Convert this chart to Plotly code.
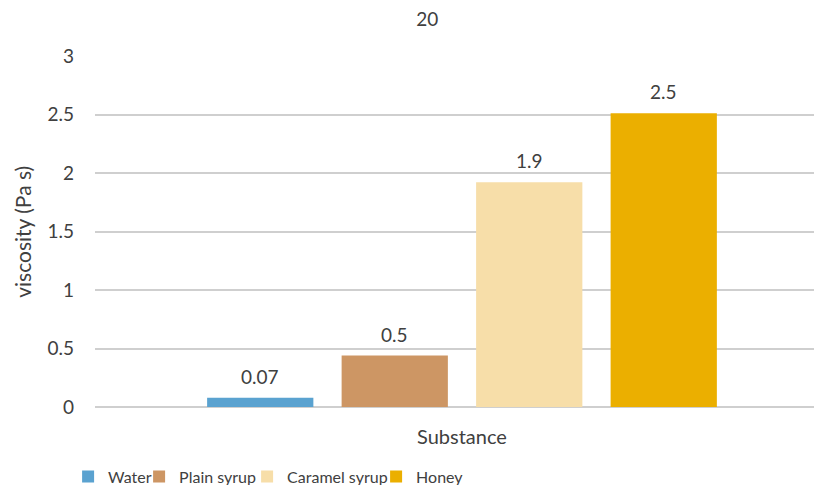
import plotly.graph_objects as go

category = ["Substance"]
series_names = ["Water", "Plain syrup", "Caramel syrup", "Honey"]
series_values = [0.08, 0.44, 1.92, 2.51]
series_labels = ["0.07", "0.5", "1.9", "2.5"]
series_colors = ["#5aa2d0", "#cd9664", "#f7dea9", "#ebaf00"]
legend_widths = [26, 63, 84, 50]
y_ticks = [0, 0.5, 1, 1.5, 2, 2.5, 3]
y_ticktext = ["0", "0.5", "1", "1.5", "2", "2.5", "3"]

FONT = "Lato, Open Sans, sans-serif"
TXT = "#404040"
BARGAP = 0.26
n = len(series_names)

fig = go.Figure()
for name, val, col, lw in zip(series_names, series_values, series_colors, legend_widths):
    fig.add_trace(go.Bar(
        x=category, y=[val], name=name, marker=dict(color=col, line=dict(width=0)),
        legendwidth=lw, hoverinfo="skip",
    ))

annotations = []
slot = (1 - BARGAP) / n
for i, (val, lab) in enumerate(zip(series_values, series_labels)):
    annotations.append(dict(
        text=lab, xref="x", yref="y", x=(i - (n - 1) / 2) * slot, y=val,
        xanchor="center", yanchor="bottom", yshift=8, showarrow=False,
        font=dict(family=FONT, size=19, color=TXT)))

annotations += [
    dict(text="viscosity (Pa s)", textangle=-90, xref="paper", yref="paper",
         x=-0.1, y=0.5, xanchor="center", yanchor="middle", showarrow=False,
         font=dict(family=FONT, size=21, color=TXT)),
    dict(text=category[0], xref="x", yref="paper", x=0, y=-0.084,
         xanchor="center", yanchor="middle", showarrow=False,
         font=dict(family=FONT, size=20, color=TXT)),
]

fig.update_layout(
    width=814, height=477,
    margin=dict(l=87, r=0, t=48, b=78, autoexpand=False),
    paper_bgcolor="white", plot_bgcolor="white",
    barmode="group", bargap=BARGAP, bargroupgap=0.21,
    font=dict(family=FONT, color=TXT),
    title=dict(text="20", x=0.515, xref="container", xanchor="center",
               y=0.977, yref="container", yanchor="middle",
               font=dict(family=FONT, size=19, color=TXT)),
    xaxis=dict(type="category", range=[-0.5048, 0.4952], showticklabels=False,
               showgrid=False, zeroline=False, showline=False, fixedrange=True),
    yaxis=dict(range=[0, 3], tickvals=y_ticks, ticktext=y_ticktext,
               showgrid=True, gridcolor="#cfcfcf", gridwidth=1.5,
               zeroline=True, zerolinecolor="#cfcfcf", zerolinewidth=1.5,
               showline=False, ticks="", ticklabelstandoff=20,
               tickfont=dict(family=FONT, size=19, color=TXT)),
    legend=dict(orientation="h", x=-0.037, xanchor="left", y=-0.150, yanchor="top",
                font=dict(family=FONT, size=16, color=TXT), itemwidth=30,
                traceorder="normal", bgcolor="rgba(0,0,0,0)"),
    showlegend=True,
    annotations=annotations,
)

fig.write_html("out.html")
